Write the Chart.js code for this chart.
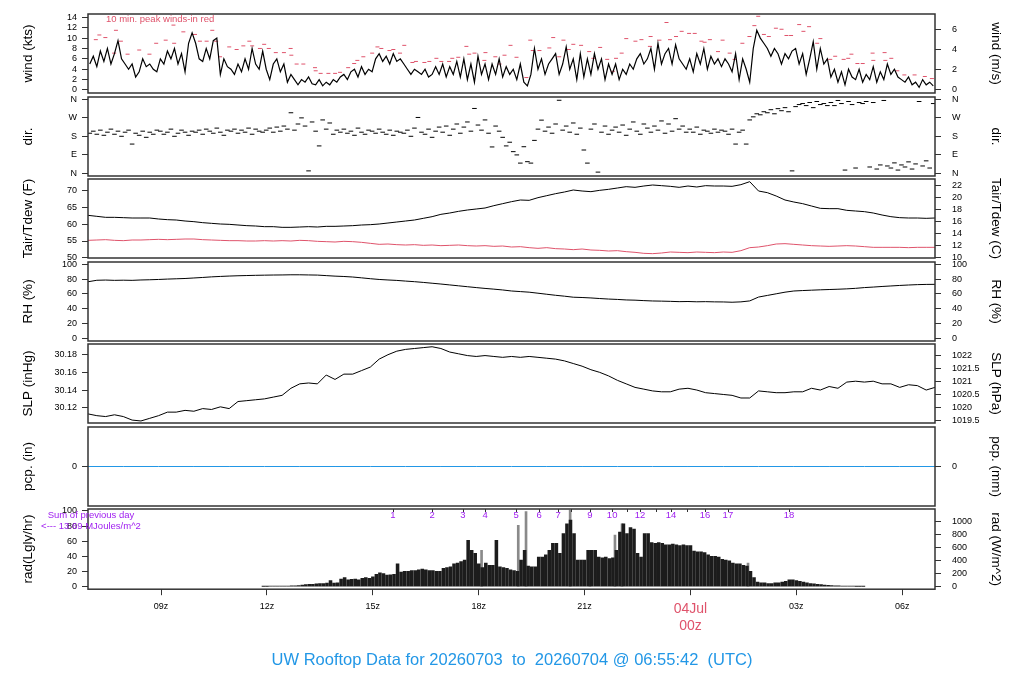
<!DOCTYPE html>
<html>
<head>
<meta charset="utf-8">
<title>UW Rooftop Data</title>
<script src="https://cdn.jsdelivr.net/npm/chart.js@4.4.1/dist/chart.umd.min.js"></script>
<style>
    html, body { margin: 0; padding: 0; background: #fff; }
    #page { position: relative; width: 1024px; height: 700px; overflow: hidden; }
    #page canvas { position: absolute; left: 0; }
</style>
</head>
<body>
<div id="page"></div>
<script>
// Time axis in hours UTC from 20260703 00z (24 = 04Jul 00z)
const T_START = 6.9283;   // 06:55:42
const T_END = 30.9283;
const timeTicks = [9, 12, 15, 18, 21, 24, 27, 30];
const DATE_LABEL = '04Jul';
const TITLE = 'UW Rooftop Data for 20260703  to  20260704 @ 06:55:42  (UTC)';

// Tick labels
const windTicks = [0, 2, 4, 6, 8, 10, 12, 14];
const windMsTicks = [0, 2, 4, 6];
const dirTicks = [0, 90, 180, 270, 360];
const dirLabels = ['N', 'E', 'S', 'W', 'N'];
const tempFTicks = [50, 55, 60, 65, 70];
const tempCTicks = [10, 12, 14, 16, 18, 20, 22];
const rhTicks = [0, 20, 40, 60, 80, 100];
const slpInTicks = [30.12, 30.14, 30.16, 30.18];
const slpHpaTicks = [1019.5, 1020, 1020.5, 1021, 1021.5, 1022];
const pcpTicks = [0];
const radLyTicks = [0, 20, 40, 60, 80, 100];
const radWTicks = [0, 200, 400, 600, 800, 1000];

// Wind speed (kts), every 6 minutes
const windKts = [
    5,6.5,4.5,7.5,5.5,8,5,7,9.5,6,
    5,4,5,2.5,3.5,6,4.5,5,4,3.5,
    6,5,7.5,6,8,5,7,3.5,9,11,
    9,6,5.5,8,6,9.5,10,3,6,4.5,
    4,3,5,3.5,6,4,8,5,4,7.5,
    4,2,5,6,3.5,5,1.5,3,2,1,
    2,1.5,2.5,1.2,1,2,0.8,1.5,1,2,
    1.5,2.5,3,2,3.5,4,2.5,4.5,3,4,
    3.5,6,7,5.5,6.5,5,7,5.5,6,5,
    4,3,4,3.5,3,4,2.5,3,4.5,3,
    5,2.5,4.5,3,5.5,2.5,6,2,5,1.5,
    6.5,3,5,2,5,3,6,2.5,4.5,3,
    4,2,5,1.5,0.8,3,8,4,6,3,
    5,6,7,3,5,8.3,4,6,2,7,
    2.5,6,3,7,4,6,2,5,3,5,
    2,4,3,5,4,6,7,5,6,8,
    4,9,5,7,8,5,8.7,6,5,4,
    6,3.5,7,5,8,4,6.5,5,6,4.5,
    6,5,3.5,7,2,6,4,1.5,8,11.5,
    10,9,8,6.5,8,7,5,7,6,7.5,
    8,5,7,3,6,9.3,4,8,5,6,
    2.5,4,1.5,3.5,1,4,2.5,2,4,1.5,
    3,2,4.5,1.5,3.5,2,5,3,4,2.5,
    2,1.5,2.5,1,1.5,0.5,2,1,1.5,0.8
];

// 10 min. peak winds (kts)
const peakHours = [
    7.15,7.25,7.42,7.67,7.72,7.86,8.05,8.38,8.67,8.86,
    9.13,9.35,9.37,9.63,9.96,10.10,10.29,10.45,10.56,10.67,
    10.93,11.14,11.33,11.50,11.58,11.80,11.92,12.05,12.25,12.48,
    12.67,12.69,12.84,13.03,13.36,13.38,13.52,13.74,13.93,14.07,
    14.30,14.47,14.56,14.73,14.98,15.13,15.24,15.47,15.58,15.77,
    15.89,16.12,16.22,16.46,16.60,16.80,16.94,17.16,17.25,17.42,
    17.65,17.73,17.88,18.16,18.19,18.47,18.59,18.73,18.90,19.07,
    19.35,19.46,19.53,19.72,20.00,20.11,20.28,20.40,20.55,20.68,
    20.90,21.13,21.25,21.44,21.64,21.80,21.89,22.05,22.18,22.44,
    22.61,22.85,22.87,23.12,23.32,23.42,23.59,23.75,23.96,24.12,
    24.31,24.40,24.55,24.78,24.91,25.11,25.25,25.47,25.67,25.81,
    25.92,26.08,26.22,26.42,26.58,26.72,26.85,27.08,27.20,27.36,
    27.59,27.68,27.96,28.10,28.34,28.47,28.56,28.73,28.88,29.16,
    29.18,29.50,29.52,29.69,29.86,30.06,30.35,30.64,30.84
];
const peakKts = [
    9.7,10.6,10.1,7.1,11.5,9.4,6.9,7.7,6.9,9.0,
    9.6,12.5,9.0,11.2,10.7,9.4,9.4,11.5,9.4,6.4,
    8.3,7.8,8.5,9.4,8.5,8.0,8.8,8.0,7.2,7.2,
    8.0,6.7,5.0,5.0,4.3,3.7,3.2,3.2,3.2,3.4,
    4.3,5.1,5.7,6.4,7.1,8.3,8.0,7.6,7.8,7.1,
    8.6,5.3,5.5,5.3,5.5,6.1,5.5,5.5,6.1,6.3,
    8.4,6.9,7.1,5.7,7.2,6.4,5.0,6.7,8.6,6.3,
    2.4,9.6,7.6,7.6,8.1,10.1,6.4,9.6,7.8,8.8,
    8.6,7.4,6.1,8.2,5.9,3.6,6.1,7.1,9.9,9.4,
    9.7,8.4,10.3,9.6,13.0,9.7,10.3,11.3,10.9,10.9,
    9.4,9.2,9.7,7.4,9.6,7.1,5.9,9.0,10.3,12.4,
    14.2,10.7,10.3,11.9,11.7,10.5,10.5,12.6,11.3,12.2,
    9.0,9.9,5.9,6.5,5.9,6.1,6.9,5.1,5.1,7.1,
    5.7,7.2,5.7,6.1,3.7,2.9,2.9,2.6,2.2
];

// Wind direction (deg), every 6 minutes
const windDir = [
    195,205,190,210,185,200,215,190,205,180,
    200,210,142,195,185,205,175,200,190,210,
    205,190,200,215,180,195,210,200,185,205,
    200,210,190,215,205,195,220,200,185,210,
    205,215,195,210,200,220,190,215,205,200,
    210,220,200,225,205,230,215,295,210,240,
    270,230,11,250,205,133,260,215,245,190,
    210,200,215,195,205,185,220,200,190,210,
    205,195,215,200,190,210,185,205,200,195,
    210,180,220,272,200,190,215,175,205,225,
    200,230,185,215,240,195,225,250,205,316,
    235,210,260,195,128,230,205,175,133,151,
    105,89,49,129,56,49,160,215,259,205,
    225,195,240,356,210,230,200,245,190,220,
    113,49,215,240,5,200,230,190,210,225,
    200,235,185,215,250,205,190,240,220,200,
    230,210,255,195,240,205,266,215,230,200,
    215,200,225,190,210,205,195,215,200,210,
    205,190,215,142,200,210,142,260,275,290,
    285,300,295,310,290,315,305,320,300,11,
    325,335,340,330,345,320,350,335,340,330,
    345,330,355,340,15,350,335,25,345,340,
    350,30,345,20,40,355,35,25,50,15,
    40,30,55,20,45,350,35,60,25,340
];

// Air temperature / dew point (F), RH (%), SLP (inHg), every 15 minutes
const tairF = [
    62.7,62.4,62.1,62.1,62.0,61.9,61.9,61.9,61.6,61.4,61.3,
    61.0,60.8,60.5,60.3,60.1,60.0,59.8,59.6,59.5,59.3,
    59.3,59.1,59.1,59.2,59.3,59.2,59.4,59.4,59.5,59.6,
    59.8,59.9,60.1,60.4,60.7,61.0,61.3,61.8,62.3,63.0,
    63.4,63.9,64.3,64.6,64.9,65.6,66.2,66.8,67.3,67.2,
    68.0,68.6,69.2,69.7,70.3,70.0,69.8,70.2,70.5,70.9,
    71.3,71.1,71.5,71.8,71.6,71.4,71.1,71.5,71.2,71.6,
    71.5,71.5,71.4,71.9,72.8,70.0,69.5,68.5,67.3,66.7,
    66.2,65.5,64.8,64.7,64.7,64.2,64.0,63.8,63.4,62.8,
    62.3,62.0,61.9,61.9,61.8,61.9
];
const tdewF = [
    55.2,55.3,55.4,55.2,55.1,55.3,55.3,55.4,55.5,55.4,55.5,
    55.6,55.6,55.4,55.3,55.2,55.1,55.1,55.0,55.0,55.1,
    55.0,55.1,55.0,55.2,55.1,54.9,54.8,54.7,54.9,54.8,
    54.6,54.3,54.0,54.1,53.9,53.8,53.9,53.7,53.8,53.6,
    53.7,53.8,53.6,53.5,53.6,53.4,53.5,53.2,53.3,53.0,
    52.8,53.0,52.7,52.6,52.4,52.6,52.3,52.2,52.0,52.1,
    51.8,51.6,51.3,51.2,51.4,51.7,51.6,51.5,51.7,51.6,
    51.5,51.7,51.6,52.1,53.0,53.2,53.6,54.1,54.2,54.0,
    53.8,53.6,53.5,53.4,53.5,53.6,53.5,53.3,53.1,53.1,
    53.1,53.1,53.0,53.1,53.1,53.1
];
const rhPct = [
    76.5,78.5,78.8,78.4,78.6,78.4,78.9,79.2,79.6,80.1,80.5,
    80.9,81.6,82.3,83.1,83.7,84.2,84.6,84.9,85.2,85.4,
    85.6,85.7,85.9,85.9,85.7,85.5,84.8,84.1,83.6,82.9,
    81.8,80.6,79.6,78.9,78.3,77.4,76.6,75.6,74.5,73.4,
    72.2,71.0,69.8,68.6,67.5,66.5,65.4,64.0,63.2,62.4,
    61.0,59.6,58.2,57.0,55.6,55.2,54.6,53.8,53.1,52.6,
    51.9,51.6,51.0,50.5,50.3,50.0,49.6,49.8,49.4,49.6,
    49.3,49.2,48.8,49.3,50.6,55.8,58.0,60.2,62.4,64.0,
    64.6,65.1,65.6,66.0,66.4,66.9,67.6,68.6,69.3,70.1,
    70.8,71.5,72.1,72.6,72.9,73.0
];
const slpIn = [
    30.113,30.111,30.110,30.112,30.110,30.106,30.105,30.108,30.111,30.115,30.115,
    30.117,30.116,30.119,30.118,30.121,30.119,30.127,30.128,30.129,30.130,
    30.132,30.134,30.142,30.147,30.148,30.147,30.157,30.152,30.158,30.158,
    30.162,30.166,30.175,30.180,30.184,30.186,30.187,30.188,30.189,30.187,
    30.183,30.181,30.179,30.178,30.179,30.178,30.177,30.178,30.177,30.178,
    30.177,30.176,30.175,30.173,30.170,30.167,30.163,30.160,30.156,30.151,
    30.147,30.143,30.141,30.139,30.138,30.138,30.141,30.142,30.140,30.137,
    30.136,30.135,30.134,30.131,30.131,30.139,30.138,30.137,30.137,30.138,
    30.138,30.142,30.140,30.144,30.142,30.149,30.150,30.149,30.150,30.147,
    30.147,30.143,30.146,30.145,30.140,30.143
];

// Precipitation (in), hourly
const pcpIn = [0,0,0,0,0,0,0,0,0,0,0,0,0,0,0,0,0,0,0,0,0,0,0,0,0];

// Solar radiation (Langley/hr), every 6 minutes from 11.9z
const RAD_START = 11.9;
const radLy = [
    0.3,0.3,0.4,0.4,0.5,0.5,0.6,0.7,0.8,1.0,1.2,
    2,2.5,3,3,3.5,4,4,4.5,8,4.5,
    5,10,12,9,9.5,10,9,11,12,11,
    13,16,18,17,15,15.5,16,30,19,20,
    20,21,21,22,23,22,21,21,20,20,
    24,25,26,30,31,33,35,61,48,44,
    30,25,31,28,28,61,26,25,24,22,
    21,20,35,48,27,26,26,39,39,42,
    48,57,57,44,70,83,88,70,35,35,
    35,48,48,48,39,38,39,37,38,48,
    72,83,70,78,76,44,39,70,70,58,
    57,58,57,55,55,56,55,54,55,54,
    54,47,46,46,45,42,40,40,39,36,
    35,34,31,30,30,28,27,20,12,6,
    5,5,4,4,5,5,6,7,9,9,
    8,7,6,5,4,3.5,3,2.5,2,1.5,
    1.2,1,0.8,0.7,0.5,0.5,0.4,0.3,0.3,0.2
];
const radPeakHours = [18.08, 19.12, 19.34, 20.59, 21.15, 21.86, 22.06, 25.63];
const radPeakLy = [48, 81, 99, 101, 48, 68, 83, 31];

// Numbered marks along the top of the radiation panel
const sunTickHours = [15.57,16.68,17.55,18.18,19.06,19.71,20.25,20.62,21.15,21.78,22.20,22.57,23.02,23.45,23.90,24.41,25.06,26.79];
const sunLabels = ['1','2','3','4','5','6','7','','9','10','','12','','14','','16','17','18'];
const RAD_SUM = '13.69';

// Unit conversions for the right hand axes
const KTS_PER_MS = 1.94384;
const HPA_PER_INHG = 33.8639;
const W_PER_LY = 11.63;
const fToC = f => (f - 32) / 1.8;

// Layout
const PLOT_LEFT = 88;
const PLOT_RIGHT = 935;
const PANEL_TOPS = [14, 97, 179, 262, 344, 427, 509];
const PANEL_H = 79;
const PAD = 6;

const RED = '#DF536B';
const BLUE = '#2297E6';
const PURPLE = '#A020F0';

Chart.defaults.font.family = "'Liberation Sans', Arial, Helvetica, sans-serif";
Chart.defaults.color = '#000';

const page = document.getElementById('page');

// Box around every plot area
Chart.register({
    id: 'plotBox',
    afterDraw(chart) {
        const a = chart.chartArea;
        const c = chart.ctx;
        c.save();
        c.strokeStyle = '#333';
        c.lineWidth = 1.5;
        c.strokeRect(a.left, a.top, a.right - a.left, a.bottom - a.top);
        c.restore();
    }
});

function series(t0, dt, vals) {
    return vals.map((v, i) => ({ x: t0 + i * dt, y: v }));
}

function pairs(xs, ys) {
    return xs.map((x, i) => ({ x: x, y: ys[i] }));
}

function xAxis(show) {
    return {
        type: 'linear',
        min: T_START,
        max: T_END,
        display: show,
        offset: false,
        afterBuildTicks: s => { s.ticks = timeTicks.map(v => ({ value: v })); },
        afterFit: s => {
            s.height = show ? 50 : 0;
            s.paddingLeft = 0;
            s.paddingRight = 0;
        },
        ticks: {
            autoSkip: false,
            maxRotation: 0,
            padding: 5.6,
            callback: v => v === 24 ? [DATE_LABEL, '00z'] : String(v % 24).padStart(2, '0') + 'z',
            font: ctx => (ctx.tick && ctx.tick.value === 24) ? { size: 14 } : { size: 9 },
            color: ctx => (ctx.tick && ctx.tick.value === 24) ? RED : '#000'
        },
        grid: { drawOnChartArea: false, offset: false, tickLength: 6, tickColor: '#333' },
        border: { display: false }
    };
}

function yAxis(pos, title, min, max, ticks, fmt) {
    return {
        type: 'linear',
        position: pos,
        min: min,
        max: max,
        bounds: 'data',
        afterBuildTicks: s => { s.ticks = ticks.map(v => ({ value: v })); },
        afterFit: s => {
            s.width = pos === 'left' ? PLOT_LEFT : 1024 - PLOT_RIGHT;
            s.paddingTop = 0;
            s.paddingBottom = 0;
        },
        title: { display: true, text: title, font: { size: 13.5 }, padding: { top: 20, bottom: 0 } },
        ticks: {
            autoSkip: false,
            font: { size: 9 },
            padding: pos === 'left' ? 5 : 11,
            callback: fmt || (v => String(v))
        },
        grid: { drawOnChartArea: false, tickLength: 6, tickColor: '#333' },
        border: { display: false }
    };
}

function baseOptions(scales, showX) {
    return {
        responsive: false,
        animation: false,
        events: [],
        layout: { padding: { top: PAD, bottom: showX ? 0 : PAD, left: 0, right: 0 } },
        plugins: { legend: { display: false }, tooltip: { enabled: false } },
        scales: Object.assign({ x: xAxis(showX) }, scales)
    };
}

function makePanel(top, height, config) {
    const cv = document.createElement('canvas');
    cv.width = 1024;
    cv.height = height;
    cv.style.top = top + 'px';
    page.appendChild(cv);
    return new Chart(cv, config);
}

function panelTop(i) { return PANEL_TOPS[i] - PAD; }
const PANEL_CANVAS_H = PANEL_H + 2 * PAD;

// 1. wind speed
const WIND_MIN = -0.58, WIND_MAX = 14.64;
makePanel(panelTop(0), PANEL_CANVAS_H, {
    type: 'line',
    data: {
        datasets: [{
            data: series(T_START + 0.05, 0.1, windKts),
            borderColor: '#000', borderWidth: 1.2, pointRadius: 0, yAxisID: 'y'
        }, {
            data: pairs(peakHours, peakKts),
            showLine: false, pointStyle: 'line', pointRadius: 2,
            pointBorderColor: RED, pointBorderWidth: 1, borderColor: RED, yAxisID: 'y'
        }]
    },
    options: baseOptions({
        y: yAxis('left', 'wind (kts)', WIND_MIN, WIND_MAX, windTicks),
        y2: yAxis('right', 'wind (m/s)', WIND_MIN / KTS_PER_MS, WIND_MAX / KTS_PER_MS, windMsTicks)
    }, false),
    plugins: [{
        id: 'peakNote',
        afterDraw(chart) {
            const c = chart.ctx, a = chart.chartArea;
            c.save();
            c.font = "9.5px 'Liberation Sans', Arial, sans-serif";
            c.fillStyle = RED;
            c.textBaseline = 'middle';
            c.fillText('10 min. peak winds-in red', a.left + 18, a.top + 5.5);
            c.restore();
        }
    }]
});

// 2. wind direction
const dirFmt = v => dirLabels[dirTicks.indexOf(v)];
makePanel(panelTop(1), PANEL_CANVAS_H, {
    type: 'scatter',
    data: {
        datasets: [{
            data: series(T_START + 0.05, 0.1, windDir),
            pointStyle: 'line', pointRadius: 2.3,
            pointBorderColor: '#000', pointBorderWidth: 1, borderColor: '#000', yAxisID: 'y'
        }]
    },
    options: baseOptions({
        y: yAxis('left', 'dir.', -14, 372, dirTicks, dirFmt),
        y2: yAxis('right', 'dir.', -14, 372, dirTicks, dirFmt)
    }, false)
});

// 3. air temperature / dew point
const TF_MIN = 49.9, TF_MAX = 73.6;
makePanel(panelTop(2), PANEL_CANVAS_H, {
    type: 'line',
    data: {
        datasets: [{
            data: series(T_START, 0.25, tairF),
            borderColor: '#000', borderWidth: 1, pointRadius: 0, yAxisID: 'y'
        }, {
            data: series(T_START, 0.25, tdewF),
            borderColor: RED, borderWidth: 1, pointRadius: 0, yAxisID: 'y'
        }]
    },
    options: baseOptions({
        y: yAxis('left', 'Tair/Tdew (F)', TF_MIN, TF_MAX, tempFTicks),
        y2: yAxis('right', 'Tair/Tdew (C)', fToC(TF_MIN), fToC(TF_MAX), tempCTicks)
    }, false)
});

// 4. relative humidity
makePanel(panelTop(3), PANEL_CANVAS_H, {
    type: 'line',
    data: {
        datasets: [{
            data: series(T_START, 0.25, rhPct),
            borderColor: '#000', borderWidth: 1, pointRadius: 0, yAxisID: 'y'
        }]
    },
    options: baseOptions({
        y: yAxis('left', 'RH (%)', -3.6, 103.2, rhTicks),
        y2: yAxis('right', 'RH (%)', -3.6, 103.2, rhTicks)
    }, false)
});

// 5. sea level pressure
const SLP_MIN = 30.1027, SLP_MAX = 30.1921;
makePanel(panelTop(4), PANEL_CANVAS_H, {
    type: 'line',
    data: {
        datasets: [{
            data: series(T_START, 0.25, slpIn),
            borderColor: '#000', borderWidth: 1, pointRadius: 0, yAxisID: 'y'
        }]
    },
    options: baseOptions({
        y: yAxis('left', 'SLP (inHg)', SLP_MIN, SLP_MAX, slpInTicks, v => v.toFixed(2)),
        y2: yAxis('right', 'SLP (hPa)', SLP_MIN * HPA_PER_INHG, SLP_MAX * HPA_PER_INHG, slpHpaTicks)
    }, false)
});

// 6. precipitation
makePanel(panelTop(5), PANEL_CANVAS_H, {
    type: 'line',
    data: {
        datasets: [{
            data: series(T_START, 1, pcpIn),
            borderColor: BLUE, borderWidth: 1, pointRadius: 0, yAxisID: 'y'
        }]
    },
    options: baseOptions({
        y: yAxis('left', 'pcp. (in)', -1, 1, pcpTicks),
        y2: yAxis('right', 'pcp. (mm)', -1, 1, pcpTicks)
    }, false)
});

// 7. solar radiation, with the time axis and the title
const RAD_MIN = -3.5, RAD_MAX = 102.5;
const radOptions = baseOptions({
    y: yAxis('left', 'rad(Lgly/hr)', RAD_MIN, RAD_MAX, radLyTicks),
    y2: yAxis('right', 'rad (W/m^2)', RAD_MIN * W_PER_LY, RAD_MAX * W_PER_LY, radWTicks)
}, true);
radOptions.plugins.title = {
    display: true,
    position: 'bottom',
    text: TITLE,
    color: BLUE,
    font: { size: 16.5, weight: 'normal' },
    padding: { top: 11, bottom: 30 }
};

makePanel(panelTop(6), 197, {
    type: 'bar',
    data: {
        datasets: [{
            data: series(RAD_START, 0.1, radLy),
            backgroundColor: '#1c1c1c', barThickness: 2.9, grouped: false, order: 1, yAxisID: 'y'
        }, {
            data: pairs(radPeakHours, radPeakLy),
            backgroundColor: '#8a8a8a', barThickness: 2, grouped: false, order: 2, yAxisID: 'y'
        }]
    },
    options: radOptions,
    plugins: [{
        id: 'sunMarks',
        beforeDatasetsDraw(chart) {
            const c = chart.ctx, a = chart.chartArea, xs = chart.scales.x;
            c.save();
            c.font = "9.5px 'Liberation Sans', Arial, sans-serif";
            c.fillStyle = PURPLE;
            c.textAlign = 'center';
            c.textBaseline = 'middle';
            sunTickHours.forEach((h, i) => {
                if (sunLabels[i]) c.fillText(sunLabels[i], xs.getPixelForValue(h), a.top + 6);
            });
            c.restore();
        },
        afterDraw(chart) {
            const c = chart.ctx, a = chart.chartArea, xs = chart.scales.x;
            c.save();
            c.strokeStyle = '#333';
            c.lineWidth = 1;
            sunTickHours.forEach(h => {
                const px = Math.round(xs.getPixelForValue(h)) + 0.5;
                c.beginPath();
                c.moveTo(px, a.top);
                c.lineTo(px, a.top + 3);
                c.stroke();
            });
            c.font = "9.5px 'Liberation Sans', Arial, sans-serif";
            c.fillStyle = PURPLE;
            c.textAlign = 'center';
            c.textBaseline = 'middle';
            c.fillText('Sum of previous day', 91, a.top + 6);
            c.fillText('<--- ' + RAD_SUM + ' MJoules/m^2', 91, a.top + 17);
            c.restore();
        }
    }]
});
</script>
</body>
</html>
